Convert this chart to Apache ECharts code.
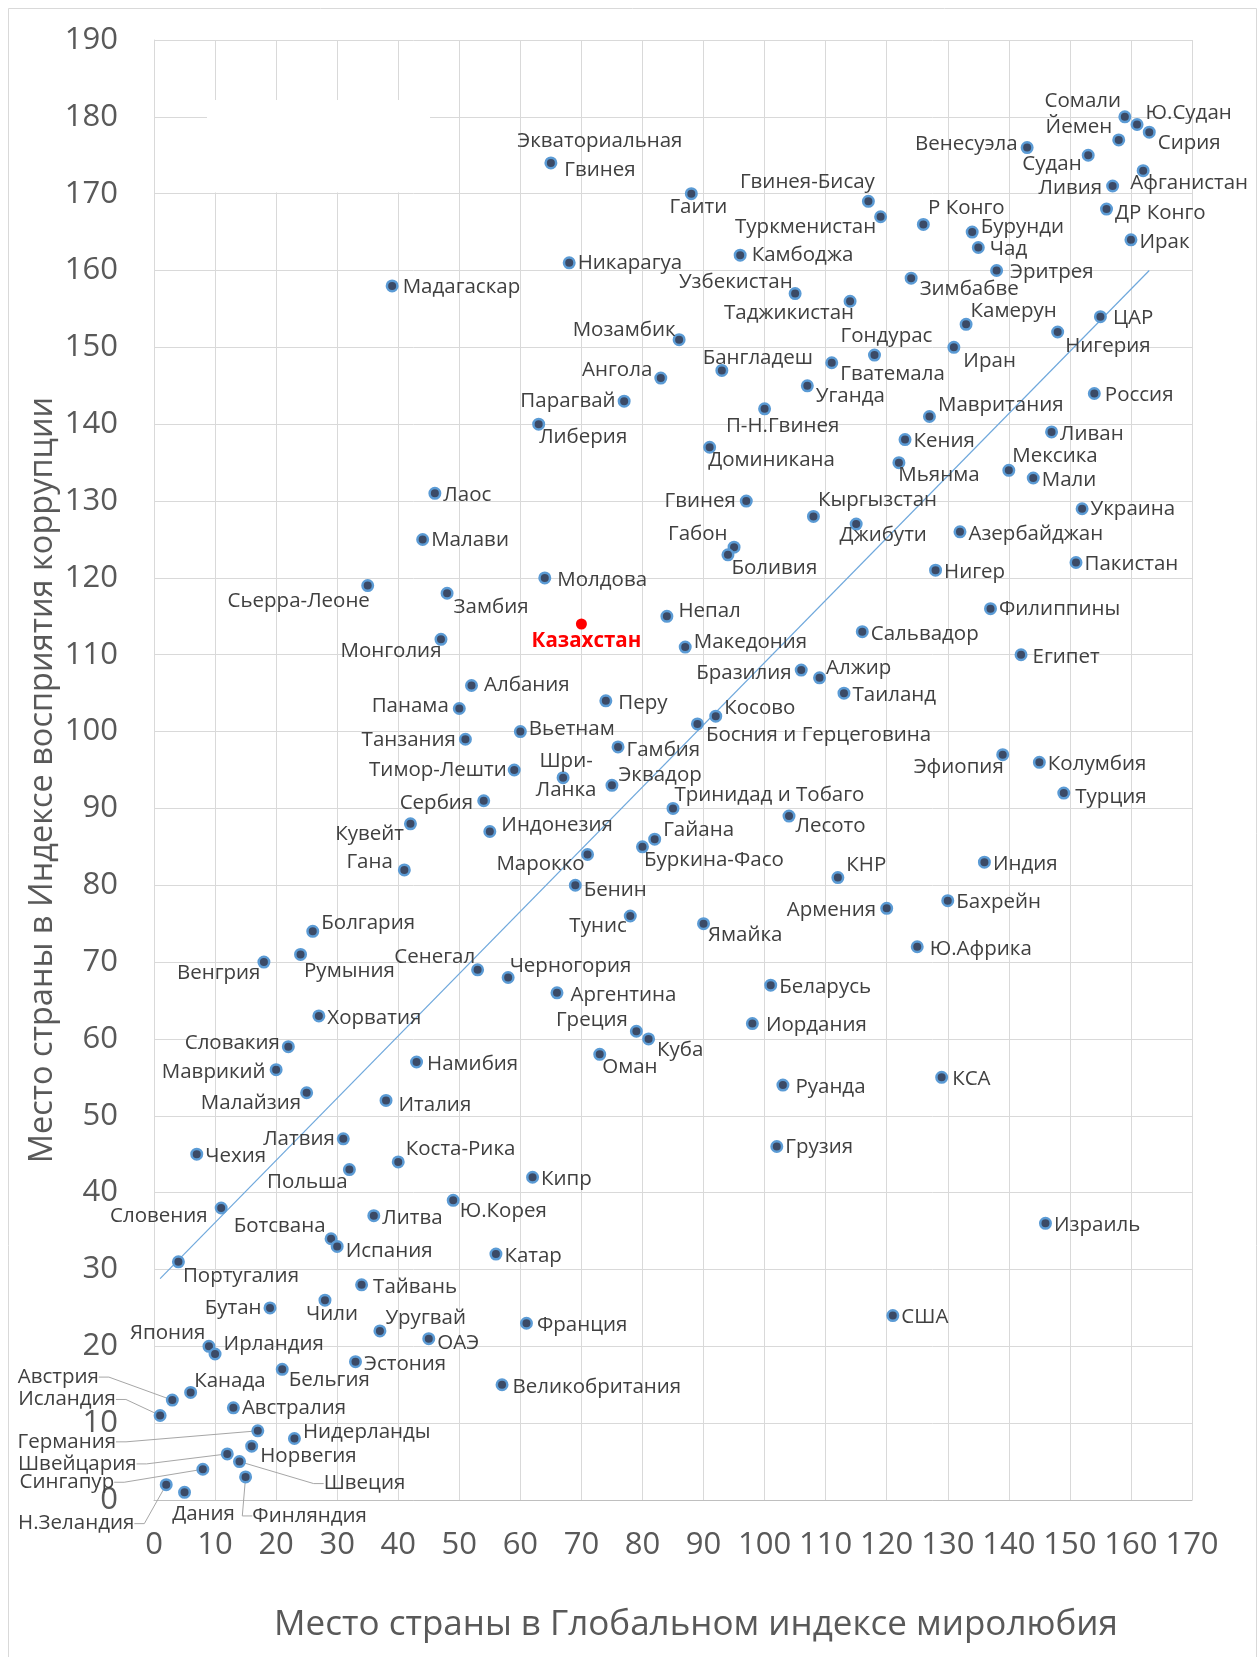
<!DOCTYPE html>
<html>
<head>
<meta charset="utf-8">
<title>Место страны: индекс коррупции и индекс миролюбия</title>
<script src="https://cdn.jsdelivr.net/npm/echarts/dist/echarts.min.js"></script>
<style>
  html, body { margin: 0; padding: 0; background: #fff; }
  #chart { width: 1258px; height: 1657px; }
</style>
</head>
<body>
<div id="chart"></div>
<script>
// страны и их места: x — Глобальный индекс миролюбия, y — Индекс восприятия коррупции
const countries = [
  'Экваториальная Гвинея', 'Гаити', 'Гвинея-Бисау', 'Туркменистан', 'Никарагуа', 'Камбоджа',
  'Узбекистан', 'Таджикистан', 'Мозамбик', 'Ангола', 'Бангладеш', 'Гватемала', 'Гондурас',
  'Парагвай', 'Уганда', 'П-Н.Гвинея', 'Сомали', 'Ю.Судан', 'Сирия', 'Йемен', 'Венесуэла',
  'Судан', 'Афганистан', 'Ливия', 'ДР Конго', 'Ирак', 'Р Конго', 'Бурунди', 'Чад', 'Эритрея',
  'Зимбабве', 'Камерун', 'Нигерия', 'ЦАР', 'Иран', 'Россия', 'Мавритания', 'Мадагаскар',
  'Либерия', 'Доминикана', 'Лаос', 'Малави', 'Гвинея', 'Кыргызстан', 'Габон', 'Боливия',
  'Молдова', 'Замбия', 'Монголия', 'Казахстан', 'Непал', 'Македония', 'Бразилия', 'Алжир',
  'Таиланд', 'Албания', 'Панама', 'Перу', 'Вьетнам', 'Танзания', 'Косово',
  'Босния и Герцеговина', 'Гамбия', 'Шри-Ланка', 'Эквадор', 'Тимор-Лешти', 'Сербия',
  'Тринидад и Тобаго', 'Лесото', 'Ливан', 'Кения', 'Мьянма', 'Мексика', 'Мали', 'Украина',
  'Джибути', 'Азербайджан', 'Пакистан', 'Нигер', 'Филиппины', 'Сальвадор', 'Египет',
  'Эфиопия', 'Колумбия', 'Турция', 'Сьерра-Леоне', 'Кувейт', 'Гана', 'Болгария', 'Румыния',
  'Венгрия', 'Хорватия', 'Словакия', 'Маврикий', 'Малайзия', 'Намибия', 'Италия', 'Латвия',
  'Чехия', 'Коста-Рика', 'Польша', 'Словения', 'Индонезия', 'Марокко', 'Гайана',
  'Буркина-Фасо', 'КНР', 'Бенин', 'Тунис', 'Ямайка', 'Сенегал', 'Черногория', 'Аргентина',
  'Беларусь', 'Иордания', 'Греция', 'Куба', 'Оман', 'Руанда', 'Грузия', 'Кипр', 'Ю.Корея',
  'Индия', 'Армения', 'Бахрейн', 'Ю.Африка', 'КСА', 'Израиль', 'США', 'Катар', 'Франция',
  'ОАЭ', 'Великобритания', 'Португалия', 'Ботсвана', 'Испания', 'Литва', 'Тайвань', 'Бутан',
  'Чили', 'Уругвай', 'Япония', 'Ирландия', 'Эстония', 'Бельгия', 'Канада', 'Австрия',
  'Исландия', 'Австралия', 'Германия', 'Нидерланды', 'Норвегия', 'Швейцария', 'Швеция',
  'Сингапур', 'Финляндия', 'Н.Зеландия', 'Дания'
];
const gpiRank = [
  65, 88, 117, 119, 68, 96, 105, 114, 86, 83, 93, 111, 118, 77, 107, 100, 159, 161, 163, 158, 143,
  153, 162, 157, 156, 160, 126, 134, 135, 138, 124, 133, 148, 155, 131, 154, 127, 39,
  63, 91, 46, 44, 97, 108, 95, 94, 64, 48, 47, 70, 84, 87, 106, 109,
  113, 52, 50, 74, 60, 51, 92, 89, 76, 67, 75, 59, 54, 85, 104, 147, 123, 122, 140, 144, 152,
  115, 132, 151, 128, 137, 116, 142, 139, 145, 149, 35, 42, 41, 26, 24,
  18, 27, 22, 20, 25, 43, 38, 31, 7, 40, 32, 11, 55, 71, 82,
  80, 112, 69, 78, 90, 53, 58, 66, 101, 98, 79, 81, 73, 103, 102, 62, 49,
  136, 120, 130, 125, 129, 146, 121, 56, 61, 45, 57, 4, 29, 30, 36, 34, 19,
  28, 37, 9, 10, 33, 21, 6, 3, 1, 13, 17, 23, 16, 12, 14, 8, 15, 2, 5
];
const cpiRank = [
  174, 170, 169, 167, 161, 162, 157, 156, 151, 146, 147, 148, 149, 143, 145, 142, 180, 179, 178, 177, 176,
  175, 173, 171, 168, 164, 166, 165, 163, 160, 159, 153, 152, 154, 150, 144, 141, 158,
  140, 137, 131, 125, 130, 128, 124, 123, 120, 118, 112, 114, 115, 111, 108, 107,
  105, 106, 103, 104, 100, 99, 102, 101, 98, 94, 93, 95, 91, 90, 89, 139, 138, 135, 134, 133, 129,
  127, 126, 122, 121, 116, 113, 110, 97, 96, 92, 119, 88, 82, 74, 71,
  70, 63, 59, 56, 53, 57, 52, 47, 45, 44, 43, 38, 87, 84, 86,
  85, 81, 80, 76, 75, 69, 68, 66, 67, 62, 61, 60, 58, 54, 46, 42, 39,
  83, 77, 78, 72, 55, 36, 24, 32, 23, 21, 15, 31, 34, 33, 37, 28, 25,
  26, 22, 20, 19, 18, 17, 14, 13, 11, 12, 9, 8, 7, 6, 5, 4, 3, 2, 1
];
const highlight = 'Казахстан';

// концы линии тренда
const trendX = [1, 163];
const trendY = [28.8, 160];

// где стоит подпись: r — справа, l — слева, c — по центру со сдвигом
const labelPlace = {
  'Экваториальная Гвинея': ['c', 49, -7, { text: 'Экваториальная\nГвинея' }],
  'Гаити': ['c', 7, 13], 'Гвинея-Бисау': ['c', -61, -19], 'Туркменистан': ['c', -75, 10],
  'Камбоджа': ['r', 3, 0], 'Узбекистан': ['l', 6, -11], 'Таджикистан': ['c', -61, 12],
  'Мозамбик': ['l', 5, -10], 'Ангола': ['l', 0, -8], 'Бангладеш': ['c', 36, -12],
  'Парагвай': ['l', 0, 0], 'Уганда': ['r', 0, 10], 'П-Н.Гвинея': ['c', 18, 17],
  'Сомали': ['c', -42, -16], 'Ю.Судан': ['r', 0, -11], 'Сирия': ['r', 0, 11],
  'Йемен': ['l', 2, -13], 'Венесуэла': ['l', -1, -3], 'Судан': ['l', 2, 9],
  'Афганистан': ['c', 46, 13], 'Ливия': ['l', -2, 2], 'ДР Конго': ['r', 0, 4],
  'Ирак': ['r', 0, 2], 'Р Конго': ['c', 43, -16], 'Бурунди': ['r', 0, -5], 'Чад': ['r', 3, 2],
  'Эритрея': ['r', 5, 2], 'Зимбабве': ['r', 0, 11], 'Камерун': ['r', -4, -13],
  'Нигерия': ['r', -1, 14], 'ЦАР': ['r', 4, 2], 'Иран': ['r', 1, 14], 'Россия': ['r', 2, 2],
  'Гондурас': ['c', 12, -19], 'Гватемала': ['r', 0, 11], 'Мавритания': ['r', 0, -11],
  'Мадагаскар': ['r', 2, 1], 'Ливан': ['r', 0, 2], 'Кения': ['r', 0, 2], 'Мьянма': ['c', 40, 13],
  'Мексика': ['r', -5, -14], 'Мали': ['r', 0, 2], 'Кыргызстан': ['r', -4, -16],
  'Джибути': ['c', 27, 11], 'Азербайджан': ['r', 0, 2], 'Пакистан': ['r', 0, 2],
  'Нигер': ['r', 0, 2], 'Филиппины': ['r', 0, 1], 'Сальвадор': ['r', 0, 2], 'Египет': ['r', 3, 2],
  'Эфиопия': ['c', -44, 13], 'Колумбия': ['r', 0, 2], 'Турция': ['r', 3, 4],
  'Либерия': ['r', -8, 13], 'Доминикана': ['r', -10, 13], 'Лаос': ['r', 0, 2], 'Малави': ['r', 0, 1],
  'Гвинея': ['l', -2, 0], 'Габон': ['l', 2, -13], 'Боливия': ['r', -5, 13], 'Молдова': ['r', 4, 2],
  'Замбия': ['r', -2, 14], 'Монголия': ['c', -50, 12], 'Казахстан': ['c', 5, 17],
  'Непал': ['r', 3, -5], 'Македония': ['r', 0, -5], 'Бразилия': ['l', -1, 3], 'Алжир': ['r', -2, -10],
  'Таиланд': ['r', 0, 2], 'Албания': ['r', 4, 0], 'Панама': ['l', -2, -2], 'Перу': ['r', 4, 2],
  'Вьетнам': ['r', 0, -2], 'Танзания': ['l', -1, 1], 'Косово': ['r', 0, -8],
  'Босния и Герцеговина': ['r', 0, 11], 'Гамбия': ['r', 0, 3],
  'Шри-Ланка': ['c', 3, -2, { text: 'Шри-\nЛанка' }], 'Эквадор': ['r', -2, -10],
  'Тимор-Лешти': ['l', 1, 0], 'Сербия': ['l', -2, 2], 'Тринидад и Тобаго': ['r', -7, -13],
  'Лесото': ['r', -2, 10], 'Сьерра-Леоне': ['c', -69, 16], 'Кувейт': ['l', 2, 10],
  'Гана': ['l', -3, -8], 'Болгария': ['r', 0, -8], 'Румыния': ['r', -5, 17], 'Венгрия': ['l', 5, 11],
  'Хорватия': ['r', 0, 2], 'Словакия': ['l', 0, -3], 'Маврикий': ['l', -2, 2], 'Малайзия': ['l', 3, 10],
  'Латвия': ['l', 0, 0], 'Чехия': ['r', 0, 2], 'Польша': ['c', -42, 13], 'Коста-Рика': ['r', -1, -13],
  'Намибия': ['r', 2, 2], 'Италия': ['r', 4, 5], 'Словения': ['l', -5, 8], 'Индонезия': ['r', 3, -6],
  'Марокко': ['c', -47, 10], 'Гайана': ['r', 0, -9], 'Буркина-Фасо': ['r', -7, 13], 'Бенин': ['r', 0, 5],
  'Тунис': ['l', 5, 10], 'Ямайка': ['r', -4, 11], 'КНР': ['r', 0, -12], 'Армения': ['l', -2, 2],
  'Сенегал': ['l', 6, -13], 'Черногория': ['r', -7, -11], 'Аргентина': ['r', 5, 2],
  'Греция': ['l', 0, -11], 'Куба': ['r', 0, 11], 'Оман': ['r', -6, 13], 'Беларусь': ['r', 0, 2],
  'Иордания': ['r', 5, 2], 'Руанда': ['r', 4, 2], 'Грузия': ['r', 0, 1], 'Кипр': ['r', 0, 2],
  'Ю.Корея': ['r', -2, 11], 'Индия': ['r', 0, 2], 'Бахрейн': ['r', 0, 2], 'Ю.Африка': ['r', 4, 2],
  'КСА': ['r', 2, 2], 'Израиль': ['r', 0, 2], 'США': ['r', 0, 2], 'Катар': ['r', 0, 2],
  'Франция': ['r', 2, 2], 'ОАЭ': ['r', 0, 5], 'Великобритания': ['r', 2, 2],
  'Португалия': ['r', -4, 14], 'Ботсвана': ['l', 3, -13], 'Испания': ['r', 0, 5], 'Литва': ['r', 0, 2],
  'Тайвань': ['r', 3, 2], 'Бутан': ['l', 0, 0], 'Чили': ['c', 7, 14], 'Уругвай': ['r', -3, -13],
  'Япония': ['l', 5, -13], 'Ирландия': ['r', 0, -10], 'Эстония': ['r', 0, 2], 'Бельгия': ['r', -2, 11],
  'Канада': ['r', -5, -11], 'Австралия': ['r', 0, 0], 'Нидерланды': ['r', 0, -6],
  'Норвегия': ['r', 0, 10], 'Дания': ['c', 19, 22],
  // подписи, вынесенные в сторону с выноской
  'Австрия': ['c', -114, -23, { line: true }], 'Исландия': ['c', -93, -16, { line: true }],
  'Германия': ['c', -191, 11, { line: true }], 'Швейцария': ['c', -150, 10, { line: true }],
  'Сингапур': ['c', -136, 13, { line: true }], 'Н.Зеландия': ['c', -90, 39, { line: true }],
  'Швеция': ['c', 125, 22, { line: true }], 'Финляндия': ['c', 64, 39, { line: true }]
};

const FONT = 'Open Sans';

function makeLabel(name) {
  const pl = labelPlace[name] || ['r', 0, 0];
  const extra = pl[3] || {};
  const lab = { offset: [pl[1], pl[2]] };
  if (pl[0] === 'r') {
    lab.position = 'right';
  } else if (pl[0] === 'l') {
    lab.position = 'left';
  } else {
    lab.position = ['50%', '50%'];
    lab.align = 'center';
    lab.verticalAlign = 'middle';
  }
  if (extra.text) {
    lab.formatter = extra.text;
    lab.lineHeight = 29;
  }
  return lab;
}

const points = countries.map(function (name, i) {
  const pl = labelPlace[name] || [];
  const extra = pl[3] || {};
  const item = {
    name: name,
    value: [gpiRank[i], cpiRank[i]],
    label: makeLabel(name)
  };
  if (extra.line) {
    item.labelLine = { show: true, length2: 10, lineStyle: { color: '#a6a6a6', width: 1 } };
  }
  if (name === highlight) {
    item.symbolSize = 11;
    item.itemStyle = { color: '#ff0000', borderWidth: 0 };
    item.label.color = '#ff0000';
    item.label.fontWeight = 'bold';
  }
  return item;
});

const trendData = trendX.map(function (x, i) { return [x, trendY[i]]; });

const chart = echarts.init(document.getElementById('chart'));

chart.setOption({
  animation: false,
  backgroundColor: '#ffffff',
  textStyle: { fontFamily: FONT },
  graphic: [
    {
      type: 'rect', z: 100,
      shape: { x: 8.5, y: 8.5, width: 1248, height: 1660 },
      style: { fill: 'none', stroke: '#d9d9d9', lineWidth: 1 }
    },
    {
      type: 'rect', z: 1,
      shape: { x: 207, y: 100, width: 223, height: 92.5 },
      style: { fill: '#ffffff' }
    }
  ],
  grid: { left: 154, top: 40, width: 1038, height: 1460 },
  xAxis: {
    type: 'value',
    min: 0, max: 170, interval: 10,
    name: 'Место страны в Глобальном индексе миролюбия',
    nameLocation: 'middle',
    nameGap: 108,
    nameMoveOverlap: false,
    nameTextStyle: { fontSize: 35, color: '#595959', fontFamily: FONT, padding: [0, 0, 0, 46] },
    axisLine: { show: true, lineStyle: { color: '#bfbfbf', width: 1 } },
    axisTick: { show: false },
    axisLabel: { fontSize: 31, color: '#595959', fontFamily: FONT, margin: 30, hideOverlap: false, showMinLabel: true, showMaxLabel: true },
    splitLine: { show: true, lineStyle: { color: '#d9d9d9', width: 1 } }
  },
  yAxis: {
    type: 'value',
    min: 0, max: 190, interval: 10,
    name: 'Место страны в Индексе восприятия коррупции',
    nameLocation: 'middle',
    nameRotate: 90,
    nameGap: 95,
    nameMoveOverlap: false,
    nameTextStyle: { fontSize: 32.5, color: '#595959', fontFamily: FONT, padding: [0, 20, 0, 0] },
    axisLine: { show: true, lineStyle: { color: '#d9d9d9', width: 1 } },
    axisTick: { show: false },
    axisLabel: { fontSize: 31, color: '#595959', fontFamily: FONT, margin: 36, hideOverlap: false, showMinLabel: true, showMaxLabel: true },
    splitLine: { show: true, lineStyle: { color: '#d9d9d9', width: 1 } }
  },
  series: [
    {
      type: 'line',
      name: 'тренд',
      data: trendData,
      showSymbol: false,
      silent: true,
      z: 3,
      lineStyle: { color: '#6fa8dc', width: 1.2 },
      label: { show: false }
    },
    {
      type: 'scatter',
      name: 'страны',
      data: points,
      z: 4,
      symbol: 'circle',
      symbolSize: 10.5,
      itemStyle: { color: '#3b4a66', borderColor: '#5b9bd5', borderWidth: 2.5, opacity: 1 },
      label: {
        show: true,
        formatter: '{b}',
        distance: 2,
        fontSize: 20.5,
        fontFamily: FONT,
        color: '#404040',
        textBorderWidth: 0
      },
      labelLine: { show: false },
      emphasis: { disabled: true }
    }
  ]
});
</script>
</body>
</html>
